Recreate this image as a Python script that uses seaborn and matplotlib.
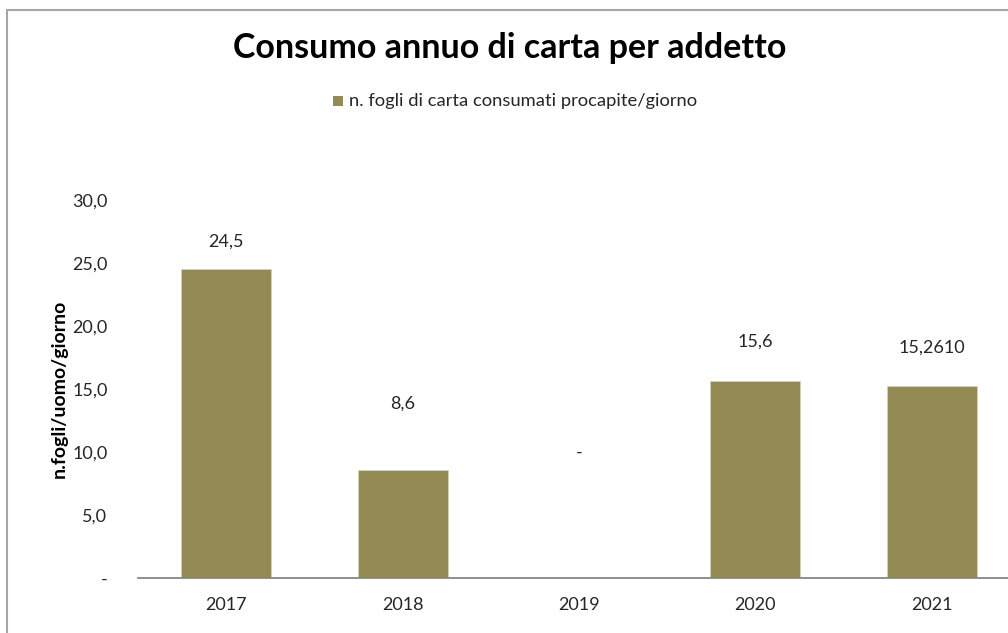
import matplotlib
matplotlib.use("Agg")
import matplotlib.pyplot as plt
import seaborn as sns
import pandas as pd
from matplotlib.patches import Rectangle

years = ["2017", "2018", "2019", "2020", "2021"]
values = [24.5, 8.6, 0.0, 15.6, 15.261]
value_labels = ["24,5", "8,6", "-", "15,6", "15,2610"]
yticks = [0, 5, 10, 15, 20, 25, 30]
ytick_labels = ["-", "5,0", "10,0", "15,0", "20,0", "25,0", "30,0"]
label_offsets_px = [28, 66, 125, 40, 38]

title = "Consumo annuo di carta per addetto"
series_name = "n. fogli di carta consumati procapite/giorno"
ylabel = "n.fogli/uomo/giorno"

bar_color = "#948A54"
FONT = ["Lato", "DejaVu Sans"]

sns.set_theme(style="white")
plt.rcParams['font.family'] = FONT

W, H = 1008, 633
fig = plt.figure(figsize=(W / 100, H / 100), dpi=100)
fig.patch.set_facecolor("white")

# outer chart border (cropped on right and bottom)
fig.patches.append(Rectangle((7 / W, -0.1), 1.2, (H - 10) / H + 0.1,
                             transform=fig.transFigure, fill=False,
                             edgecolor="#A6A6A6", linewidth=1.5))

ax = fig.add_axes([138 / W, (H - 578) / H, (1020 - 138) / W, (578 - 200) / H])
df = pd.DataFrame({"year": years, "value": values})
sns.barplot(data=df, x="year", y="value", color=bar_color, width=0.51,
            saturation=1, ax=ax)
for p in ax.patches:
    p.set_edgecolor("#D8D2B4")
    p.set_linewidth(0.6)

ax.set_ylim(0, 30)
ax.set_xlim(-0.5, 4.5)
ax.set_yticks(yticks)
ax.set_yticklabels(ytick_labels)
ax.tick_params(axis="y", length=0, pad=22, labelsize=13, labelcolor="#262626")
ax.tick_params(axis="x", length=0, pad=14, labelsize=13, labelcolor="#262626")
ax.set_xlabel("")
ax.set_ylabel(ylabel, fontsize=14, fontweight="bold", labelpad=3, color="black")

for s in ["top", "right", "left"]:
    ax.spines[s].set_visible(False)
ax.spines["bottom"].set_color("#868686")
ax.spines["bottom"].set_linewidth(1.3)

for i, (v, lab, off) in enumerate(zip(values, value_labels, label_offsets_px)):
    ax.annotate(lab, xy=(i, v), xytext=(0, off), textcoords="offset pixels",
                ha="center", va="center", fontsize=13, color="#262626")

fig.text(510 / W, 1 - 48 / H, title, ha="center", va="center",
         fontsize=24.5, fontweight="bold", color="black")

# legend
fig.patches.append(Rectangle((333 / W, 1 - 106 / H), 10 / W, 10 / H,
                             transform=fig.transFigure, facecolor=bar_color,
                             edgecolor="none"))
fig.text(349 / W, 1 - 101 / H, series_name, ha="left", va="center",
         fontsize=13.2, color="#262626")

fig.savefig("out.png", dpi=100, facecolor="white")
